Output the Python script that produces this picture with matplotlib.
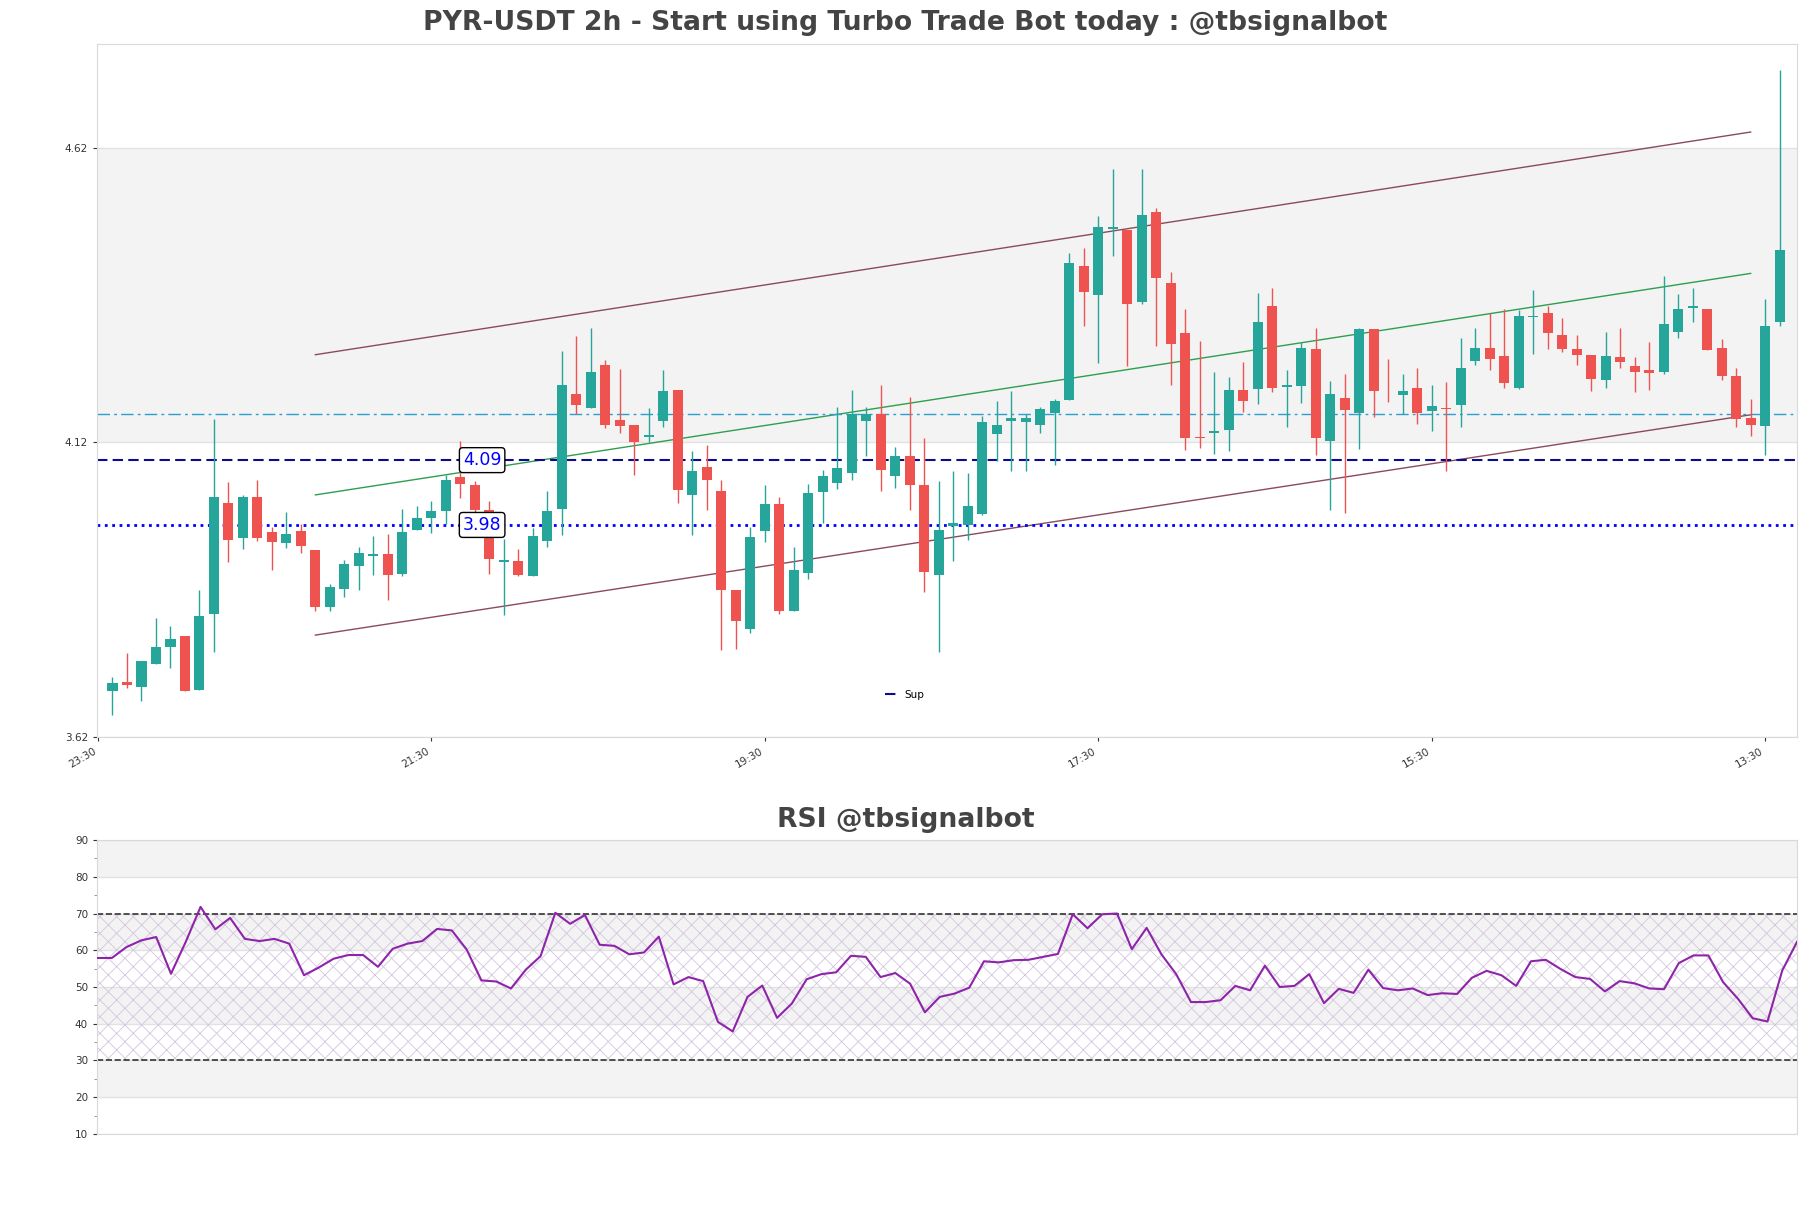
import numpy as np
import matplotlib
matplotlib.use("Agg")
import matplotlib.pyplot as plt
from matplotlib.ticker import MultipleLocator

# OHLC, 2h candles
opens = [3.698, 3.713, 3.705, 3.744, 3.773, 3.791, 3.700, 3.828, 4.017, 3.958,
         4.027, 3.968, 3.949, 3.969, 3.937, 3.841, 3.872, 3.911, 3.927, 3.930,
         3.897, 3.972, 3.991, 4.004, 4.062, 4.047, 4.006, 3.917, 3.919, 3.893,
         3.953, 4.007, 4.203, 4.178, 4.251, 4.158, 4.149, 4.129, 4.156, 4.209,
         4.031, 4.078, 4.037, 3.869, 3.803, 3.970, 4.015, 3.834, 3.899, 4.036,
         4.051, 4.068, 4.156, 4.169, 4.063, 4.097, 4.047, 3.895, 3.978, 3.980,
         3.999, 4.134, 4.156, 4.155, 4.150, 4.170, 4.192, 4.419, 4.371, 4.483,
         4.481, 4.358, 4.512, 4.390, 4.305, 4.129, 4.136, 4.141, 4.209, 4.211,
         4.351, 4.215, 4.216, 4.278, 4.123, 4.195, 4.170, 4.312, 4.198, 4.201,
         4.212, 4.174, 4.179, 4.183, 4.259, 4.281, 4.266, 4.212, 4.333, 4.340,
         4.303, 4.278, 4.269, 4.226, 4.265, 4.249, 4.243, 4.240, 4.308, 4.348,
         4.347, 4.281, 4.232, 4.161, 4.148, 4.325]
highs = [3.722, 3.762, 3.749, 3.822, 3.808, 3.792, 3.869, 4.159, 4.053, 4.031,
         4.057, 3.977, 4.002, 3.982, 3.937, 3.880, 3.921, 3.943, 3.962, 3.965,
         4.007, 4.012, 4.021, 4.065, 4.122, 4.054, 4.020, 3.956, 3.940, 3.975,
         4.037, 4.275, 4.301, 4.314, 4.260, 4.245, 4.149, 4.178, 4.243, 4.209,
         4.105, 4.115, 4.057, 3.869, 3.977, 4.048, 4.028, 3.942, 4.050, 4.073,
         4.180, 4.209, 4.180, 4.218, 4.112, 4.198, 4.128, 4.054, 4.071, 4.069,
         4.165, 4.191, 4.208, 4.168, 4.181, 4.193, 4.442, 4.450, 4.505, 4.584,
         4.481, 4.584, 4.518, 4.410, 4.347, 4.293, 4.239, 4.231, 4.256, 4.373,
         4.383, 4.243, 4.290, 4.314, 4.225, 4.237, 4.315, 4.312, 4.261, 4.237,
         4.247, 4.218, 4.222, 4.298, 4.315, 4.340, 4.347, 4.345, 4.378, 4.352,
         4.332, 4.302, 4.269, 4.307, 4.314, 4.265, 4.290, 4.403, 4.372, 4.383,
         4.347, 4.295, 4.246, 4.193, 4.363, 4.752]
lows = [3.658, 3.703, 3.681, 3.744, 3.737, 3.698, 3.700, 3.764, 3.917, 3.939,
        3.953, 3.904, 3.941, 3.933, 3.834, 3.834, 3.858, 3.870, 3.895, 3.853,
        3.893, 3.972, 3.967, 3.981, 4.026, 4.001, 3.897, 3.827, 3.893, 3.893,
        3.943, 3.963, 4.168, 4.178, 4.144, 4.136, 4.065, 4.121, 4.147, 4.018,
        3.963, 4.005, 3.768, 3.770, 3.797, 3.951, 3.829, 3.834, 3.888, 3.984,
        4.041, 4.056, 4.097, 4.037, 4.043, 4.006, 3.867, 3.765, 3.918, 3.954,
        3.997, 4.088, 4.071, 4.071, 4.136, 4.081, 4.192, 4.318, 4.255, 4.437,
        4.250, 4.355, 4.284, 4.217, 4.107, 4.111, 4.100, 4.106, 4.172, 4.185,
        4.205, 4.147, 4.187, 4.098, 4.006, 4.001, 4.109, 4.163, 4.188, 4.168,
        4.151, 4.140, 4.071, 4.147, 4.252, 4.243, 4.213, 4.211, 4.270, 4.279,
        4.274, 4.252, 4.208, 4.212, 4.246, 4.206, 4.209, 4.237, 4.298, 4.325,
        4.277, 4.226, 4.147, 4.131, 4.098, 4.318]
closes = [3.711, 3.708, 3.749, 3.772, 3.787, 3.698, 3.825, 4.027, 3.955, 4.027,
          3.958, 3.951, 3.964, 3.944, 3.841, 3.874, 3.913, 3.932, 3.930, 3.895,
          3.968, 3.991, 4.003, 4.057, 4.050, 4.006, 3.922, 3.921, 3.895, 3.962,
          4.003, 4.217, 4.184, 4.240, 4.150, 4.148, 4.121, 4.133, 4.207, 4.039,
          4.071, 4.056, 3.870, 3.817, 3.959, 4.015, 3.834, 3.903, 4.034, 4.063,
          4.077, 4.169, 4.168, 4.074, 4.097, 4.047, 3.900, 3.971, 3.984, 4.012,
          4.154, 4.149, 4.162, 4.162, 4.176, 4.190, 4.424, 4.375, 4.485, 4.486,
          4.355, 4.507, 4.400, 4.287, 4.127, 4.127, 4.140, 4.209, 4.190, 4.325,
          4.212, 4.218, 4.280, 4.128, 4.202, 4.175, 4.312, 4.208, 4.197, 4.207,
          4.170, 4.182, 4.177, 4.247, 4.281, 4.262, 4.221, 4.334, 4.335, 4.306,
          4.279, 4.268, 4.228, 4.266, 4.257, 4.240, 4.238, 4.321, 4.347, 4.351,
          4.277, 4.232, 4.159, 4.150, 4.317, 4.446]

rsi = [57.9, 57.9, 60.9, 62.7, 63.6, 53.6, 62.3, 71.8, 65.7, 68.8,
       63.1, 62.5, 63.1, 61.8, 53.2, 55.3, 57.7, 58.7, 58.7, 55.5,
       60.4, 61.8, 62.5, 65.8, 65.4, 60.2, 51.8, 51.5, 49.6, 54.7,
       58.4, 70.2, 67.2, 69.6, 61.5, 61.2, 58.9, 59.4, 63.7, 50.7,
       52.7, 51.6, 40.5, 37.9, 47.3, 50.4, 41.6, 45.5, 52.1, 53.5,
       54.0, 58.5, 58.2, 52.7, 53.8, 50.9, 43.1, 47.3, 48.2, 49.8,
       57.0, 56.7, 57.3, 57.4, 58.2, 59.0, 69.8, 66.0, 69.8, 70.0,
       60.3, 66.1, 58.9, 53.5, 45.9, 45.9, 46.4, 50.3, 49.1, 55.8,
       50.0, 50.3, 53.5, 45.6, 49.5, 48.4, 54.7, 49.7, 49.1, 49.6,
       47.8, 48.3, 48.1, 52.5, 54.4, 53.2, 50.3, 57.0, 57.4, 54.9,
       52.7, 52.2, 48.8, 51.6, 51.0, 49.6, 49.4, 56.5, 58.6, 58.6,
       51.3, 46.8, 41.5, 40.6, 54.5, 62.3]

# channel (start / end candle index and price)
channel_x = [14, 113]
channel_upper = [4.269, 4.647]
channel_lower = [3.793, 4.167]

sup_level = 4.09
sup2_level = 3.98
pivot_level = 4.168

tick_pos = [-1, 22, 45, 68, 91, 114]
tick_labels = ['23:30', '21:30', '19:30', '17:30', '15:30', '13:30']

UP = '#26a69a'
DOWN = '#ef5350'
BAND = '#f3f3f3'
SPINE = '#d9d9d9'

fig = plt.figure(figsize=(18.11, 12.08), dpi=100)
ax = fig.add_axes([0.0536, 0.3899, 0.9387, 0.5737])
rax = fig.add_axes([0.0536, 0.0613, 0.9387, 0.2433])

o = np.array(opens); h = np.array(highs); l = np.array(lows); c = np.array(closes)
x = np.arange(len(o))
cols = np.where(c >= o, UP, DOWN)

# main chart
ax.axhspan(4.12, 4.62, color=BAND, zorder=0, lw=0)
ax.vlines(x, l, h, colors=cols, lw=1, zorder=3)
ax.bar(x, c - o, bottom=o, width=0.7, color=cols, lw=0, zorder=4)

up = np.array(channel_upper); lo = np.array(channel_lower)
ax.plot(channel_x, up, color='#8b4a5c', lw=1, zorder=2)
ax.plot(channel_x, lo, color='#8b4a5c', lw=1, zorder=2)
ax.plot(channel_x, (up + lo) / 2, color='#2e9e4f', lw=1, zorder=2)

ax.axhline(pivot_level, color='#2a9fd0', ls=(0, (9, 3, 2, 3)), lw=1, zorder=2)
ax.axhline(sup_level, color='#0c0c8c', ls=(0, (5, 2.5)), lw=1.5, zorder=2, label='Sup')
ax.axhline(sup2_level, color='blue', ls=':', lw=2, zorder=2)

box = dict(boxstyle='round,pad=0.2', fc='white', ec='black', lw=1)
ax.text(25.5, sup_level, '4.09', color='blue', fontsize=12.5, ha='center', va='center', bbox=box, zorder=6)
ax.text(25.5, sup2_level, '3.98', color='blue', fontsize=12.5, ha='center', va='center', bbox=box, zorder=6)

ax.set_xlim(-1.06, 116.2)
ax.set_ylim(3.62, 4.7965)
ax.set_yticks([3.62, 4.12, 4.62])
ax.set_yticklabels(['3.62', '4.12', '4.62'])
ax.set_xticks(tick_pos)
ax.set_xticklabels(tick_labels, rotation=30, ha='right')
ax.grid(axis='y', color='#e2e2e2', lw=1)
ax.set_axisbelow(True)
ax.legend(loc='lower center', frameon=False, fontsize=7.5, handlelength=1.0,
          bbox_to_anchor=(0.475, 0.04))

# RSI panel
for y0 in [20, 40, 60, 80]:
    rax.axhspan(y0, y0 + 10, color=BAND, lw=0, zorder=0)
plt.rcParams['hatch.linewidth'] = 0.6
rax.fill_between([0, len(rsi) - 1], 30, 70, facecolor='none', edgecolor='#d3c6dd', hatch='xx', lw=0, zorder=1)
rax.axhline(70, color='#333333', ls='--', lw=1.2, zorder=2)
rax.axhline(30, color='#333333', ls='--', lw=1.2, zorder=2)
rax.plot(np.arange(len(rsi)), rsi, color='#8e24aa', lw=1.5, zorder=3)
rax.set_xlim(0, len(rsi) - 1)
rax.set_ylim(10, 90)
rax.set_yticks(range(10, 91, 10))
rax.yaxis.set_minor_locator(MultipleLocator(5))
rax.set_xticks([])
rax.grid(axis='y', color='#e2e2e2', lw=1)
rax.set_axisbelow(True)

for a in (ax, rax):
    for s in a.spines.values():
        s.set_color(SPINE)
    a.tick_params(labelsize=7.5, colors='#333333', length=3, width=0.8)
    a.tick_params(which='minor', length=2, colors='#888888')

fig.text(0.5, 1 - 23 / 1208, 'PYR-USDT 2h - Start using Turbo Trade Bot today : @tbsignalbot',
         ha='center', va='center', fontsize=19.2, fontweight='bold', color='#444444')
fig.text(0.5, 1 - 820 / 1208, 'RSI @tbsignalbot', ha='center', va='center',
         fontsize=19.2, fontweight='bold', color='#444444')

fig.savefig('out.png', dpi=100)
